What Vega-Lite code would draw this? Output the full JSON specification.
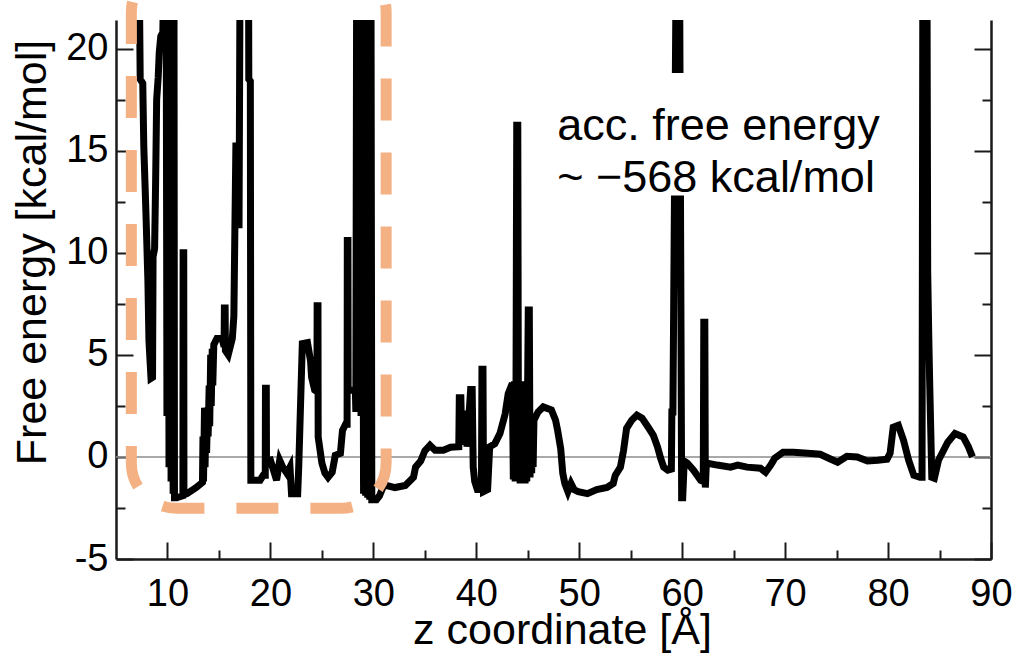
{
  "$schema": "https://vega.github.io/schema/vega-lite/v6.json",
  "width": 875,
  "height": 539,
  "autosize": "none",
  "padding": {"left": 116, "top": 20, "right": 23, "bottom": 99},
  "background": "white",
  "config": {
    "view": {"stroke": null},
    "font": "Liberation Sans",
    "axis": {"domainColor": "#1a1a1a", "domainWidth": 2.5, "tickColor": "#1a1a1a", "tickWidth": 2, "grid": false, "labelFont": "Liberation Sans", "titleFont": "Liberation Sans", "labelColor": "black", "titleColor": "black", "titleFontWeight": "normal", "labelOverlap": false, "labelFlush": false}
  },
  "datasets": {
    "fe": [
      {"z":7.15,"g":30},{"z":7.35,"g":18.5},{"z":7.6,"g":18.3},{"z":7.7,"g":15.2},{"z":7.9,"g":12.1},{"z":8.1,"g":8.6},{"z":8.2,"g":5.7},{"z":8.4,"g":3.85},{"z":8.55,"g":3.9},{"z":8.6,"g":9.8},{"z":8.75,"g":10.2},{"z":8.85,"g":13.5},{"z":8.95,"g":17.5},{"z":9.1,"g":18.6},{"z":9.2,"g":19.8},{"z":9.35,"g":20.6},{"z":9.55,"g":20.8},
      {"z":9.85,"g":30},{"z":9.95,"g":2.0},{"z":10.05,"g":30},{"z":10.15,"g":-0.5},{"z":10.25,"g":30},{"z":10.35,"g":-1.2},{"z":10.45,"g":30},{"z":10.55,"g":-1.8},{"z":10.62,"g":30},{"z":10.68,"g":-2.0},{"z":10.9,"g":-2.0},{"z":11.2,"g":-1.95},{"z":11.5,"g":-1.9},{"z":11.52,"g":10.0},{"z":11.58,"g":10.0},{"z":11.6,"g":-1.85},{"z":11.9,"g":-1.8},{"z":12.8,"g":-1.5},{"z":13.4,"g":-1.25},
      {"z":13.45,"g":1.0},{"z":13.5,"g":-1.2},{"z":13.6,"g":2.4},{"z":13.65,"g":-0.5},{"z":13.75,"g":2.4},{"z":13.8,"g":0.2},{"z":13.9,"g":2.4},{"z":13.95,"g":1.0},{"z":14.05,"g":3.5},{"z":14.1,"g":1.5},{"z":14.2,"g":5.0},{"z":14.25,"g":2.5},{"z":14.35,"g":5.3},{"z":14.4,"g":3.5},{"z":14.5,"g":5.5},{"z":14.6,"g":5.6},{"z":14.8,"g":5.8},{"z":15.3,"g":5.8},{"z":15.5,"g":5.4},{"z":15.53,"g":7.3},{"z":15.6,"g":7.3},{"z":15.63,"g":5.2},{"z":15.9,"g":5.0},{"z":16.3,"g":5.8},{"z":16.45,"g":6.9},{"z":16.55,"g":11.2},{"z":16.65,"g":15.4},{"z":16.75,"g":11.2},{"z":16.85,"g":15.4},{"z":16.95,"g":11.2},{"z":17.1,"g":30},{"z":17.85,"g":30},{"z":17.9,"g":18.5},{"z":18.05,"g":18.4},{"z":18.1,"g":-1.14},
      {"z":19.0,"g":-1.14},{"z":19.3,"g":-0.9},{"z":19.5,"g":-0.9},{"z":19.52,"g":3.36},{"z":19.6,"g":3.36},{"z":19.62,"g":-0.2},{"z":20.0,"g":-0.16},{"z":20.3,"g":-0.65},{"z":20.6,"g":-1.14},{"z":20.9,"g":-0.16},{"z":21.2,"g":-0.5},{"z":21.6,"g":-0.8},{"z":21.9,"g":-0.5},{"z":22.05,"g":-1.8},{"z":22.65,"g":-1.8},{"z":22.75,"g":-0.5},{"z":22.9,"g":2.1},{"z":23.1,"g":5.55},{"z":23.6,"g":5.6},{"z":23.9,"g":4.7},{"z":24.0,"g":3.9},{"z":24.3,"g":3.27},{"z":24.52,"g":3.2},{"z":24.54,"g":7.4},{"z":24.62,"g":7.4},{"z":24.64,"g":0.97},{"z":25.0,"g":-0.3},{"z":25.3,"g":-0.8},{"z":25.6,"g":-1.0},{"z":26.0,"g":-0.75},{"z":26.3,"g":0.08},{"z":26.8,"g":0.18},{"z":27.0,"g":1.3},{"z":27.3,"g":1.6},{"z":27.45,"g":1.6},{"z":27.47,"g":10.6},{"z":27.53,"g":10.6},{"z":27.55,"g":3.27},
      {"z":28.25,"g":3.3},{"z":28.3,"g":2.2},{"z":28.4,"g":30},{"z":28.55,"g":2.2},{"z":28.65,"g":30},{"z":28.8,"g":2.0},{"z":28.9,"g":30},{"z":29.05,"g":-1.8},{"z":29.15,"g":30},{"z":29.25,"g":-1.9},{"z":29.35,"g":30},{"z":29.45,"g":-2.0},{"z":29.55,"g":30},{"z":29.65,"g":-2.1},{"z":29.75,"g":30},{"z":29.85,"g":-2.1},{"z":30.3,"g":-2.1},{"z":30.6,"g":-1.9},
      {"z":31.0,"g":-1.4},{"z":31.3,"g":-1.4},{"z":32.1,"g":-1.5},{"z":33.1,"g":-1.4},{"z":33.9,"g":-1.0},{"z":34.1,"g":-0.5},{"z":34.6,"g":-0.2},{"z":35.0,"g":0.3},{"z":35.5,"g":0.57},{"z":36.0,"g":0.33},{"z":36.8,"g":0.33},{"z":37.5,"g":0.47},{"z":38.3,"g":0.5},{"z":38.35,"g":2.9},{"z":38.5,"g":2.9},{"z":38.6,"g":0.6},{"z":38.85,"g":2.1},{"z":39.0,"g":2.1},{"z":39.1,"g":0.5},{"z":39.45,"g":3.3},{"z":39.6,"g":3.3},{"z":39.7,"g":-0.5},{"z":39.85,"g":-1.2},{"z":40.1,"g":-1.6},{"z":40.5,"g":-1.6},{"z":40.55,"g":4.3},{"z":40.65,"g":4.3},{"z":40.7,"g":-1.7},{"z":41.1,"g":-1.6},{"z":41.3,"g":0.5},{"z":41.8,"g":0.65},{"z":42.3,"g":1.15},{"z":42.8,"g":2.1},{"z":43.1,"g":3.1},{"z":43.5,"g":3.6},
      {"z":43.6,"g":-1.1},{"z":43.7,"g":3.7},{"z":43.78,"g":-1.2},{"z":43.86,"g":3.7},{"z":43.93,"g":16.25},{"z":44.03,"g":16.25},{"z":44.1,"g":-1.2},{"z":44.18,"g":3.7},{"z":44.26,"g":-1.3},{"z":44.34,"g":3.7},{"z":44.42,"g":-1.3},{"z":44.5,"g":3.7},{"z":44.58,"g":-1.3},{"z":44.66,"g":3.6},{"z":44.74,"g":-1.3},{"z":44.82,"g":3.5},{"z":44.9,"g":-1.2},{"z":44.98,"g":3.0},{"z":45.05,"g":7.2},{"z":45.15,"g":7.2},{"z":45.22,"g":-1.0},{"z":45.3,"g":1.8},{"z":45.38,"g":-0.8},{"z":45.46,"g":1.8},{"z":45.52,"g":-0.5},{"z":45.6,"g":1.8},
      {"z":46.0,"g":2.2},{"z":46.5,"g":2.45},{"z":47.3,"g":2.3},{"z":47.7,"g":1.8},{"z":47.9,"g":1.3},{"z":48.2,"g":0.4},{"z":48.4,"g":-0.8},{"z":48.6,"g":-1.3},{"z":48.9,"g":-1.7},{"z":49.2,"g":-1.3},{"z":49.5,"g":-1.6},{"z":49.9,"g":-1.7},{"z":50.8,"g":-1.8},{"z":51.7,"g":-1.6},{"z":52.7,"g":-1.5},{"z":53.3,"g":-1.3},{"z":53.5,"g":-0.9},{"z":54.0,"g":-0.5},{"z":54.3,"g":0.3},{"z":54.6,"g":1.4},{"z":55.1,"g":1.8},{"z":55.6,"g":2.05},{"z":56.1,"g":1.9},{"z":56.7,"g":1.45},{"z":57.2,"g":1.06},{"z":57.6,"g":0.5},{"z":57.9,"g":-0.05},{"z":58.2,"g":-0.5},{"z":58.6,"g":-0.65},{"z":58.95,"g":-0.6},{"z":59.0,"g":2.2},{"z":59.1,"g":2.2},{"z":59.5,"g":30},{"z":59.7,"g":30},{"z":59.95,"g":-2.0},{"z":60.05,"g":-2.0},{"z":60.2,"g":-0.2},{"z":60.5,"g":-0.3},{"z":61.1,"g":-0.65},{"z":61.8,"g":-1.15},{"z":62.05,"g":-1.2},{"z":62.1,"g":6.6},{"z":62.2,"g":6.6},{"z":62.25,"g":-1.5},{"z":62.35,"g":-0.3},
      {"z":63.4,"g":-0.4},{"z":64.7,"g":-0.5},{"z":65.4,"g":-0.4},{"z":66.3,"g":-0.5},{"z":67.6,"g":-0.55},{"z":68.1,"g":-0.75},{"z":68.6,"g":-0.4},{"z":69.0,"g":-0.06},{"z":69.8,"g":0.23},{"z":70.8,"g":0.23},{"z":72.2,"g":0.18},{"z":73.4,"g":0.13},{"z":74.4,"g":-0.1},{"z":75.1,"g":-0.26},{"z":76.0,"g":0.03},{"z":77.0,"g":0.0},{"z":78.0,"g":-0.2},{"z":79.0,"g":-0.16},{"z":79.9,"g":-0.11},{"z":80.2,"g":0.18},{"z":80.5,"g":1.45},{"z":81.0,"g":1.55},{"z":81.5,"g":0.82},{"z":82.0,"g":-0.16},{"z":82.5,"g":-0.9},{"z":83.1,"g":-1.0},{"z":83.3,"g":-1.0},{"z":83.4,"g":30},{"z":83.75,"g":30},{"z":83.85,"g":9.1},{"z":83.95,"g":6.0},{"z":84.05,"g":3.5},{"z":84.25,"g":-1.0},{"z":84.5,"g":-1.05},{"z":84.9,"g":-0.16},{"z":85.8,"g":0.72},{"z":86.5,"g":1.15},{"z":87.3,"g":0.98},{"z":87.8,"g":0.5},{"z":88.2,"g":0.0}
    ],
    "dummy": [{"z": 5, "g": 0}]
  },
  "resolve": {"axis": {"x": "independent", "y": "independent"}},
  "layer": [
    {
      "data": {"values": [{"y0": 0}]},
      "mark": {"type": "rule", "color": "#8c8c8c", "strokeWidth": 1.5},
      "encoding": {"y": {"field": "y0", "type": "quantitative", "scale": {"domain": [-5, 21.4], "nice": false, "zero": false}, "axis": null}}
    },
    {
      "data": {"name": "fe"},
      "mark": {"type": "line", "color": "black", "strokeWidth": 7, "clip": true, "strokeJoin": "miter", "strokeCap": "butt"},
      "encoding": {
        "x": {"field": "z", "type": "quantitative", "scale": {"domain": [5, 90], "nice": false, "zero": false},
          "axis": {"orient": "bottom", "values": [10, 20, 30, 40, 50, 60, 70, 80, 90], "ticks": false, "domain": true, "labelFontSize": 38, "labelPadding": 16, "title": "z coordinate [Å]", "titleFontSize": 43, "titleX": 446, "titleY": 84, "titleBaseline": "alphabetic", "titleAlign": "center"}},
        "y": {"field": "g", "type": "quantitative", "scale": {"domain": [-5, 21.4], "nice": false, "zero": false},
          "axis": {"orient": "left", "values": [-5, 0, 5, 10, 15, 20], "ticks": false, "domain": true, "labelFontSize": 38, "labelPadding": 8, "labelExpr": "replace(datum.label, '−', '-')", "title": "Free energy [kcal/mol]", "titleFontSize": 43, "titleX": -71, "titleY": 232, "titleAngle": 270, "titleBaseline": "alphabetic", "titleAlign": "center"}},
        "order": {"value": null}
      }
    },
    {
      "data": {"values": [{"x1": 6.49, "x2": 31.24, "y1": -2.515, "y2": 24}]},
      "mark": {"type": "rect", "fill": "transparent", "stroke": "#F4B183", "strokeWidth": 11, "strokeDash": [42, 32], "strokeDashOffset": 68, "cornerRadius": 45, "clip": false},
      "encoding": {
        "x": {"field": "x1", "type": "quantitative", "scale": {"domain": [5, 90], "nice": false, "zero": false}, "axis": null},
        "x2": {"field": "x2"},
        "y": {"field": "y1", "type": "quantitative", "scale": {"domain": [-5, 21.4], "nice": false, "zero": false}, "axis": null},
        "y2": {"field": "y2"}
      }
    },
    {
      "data": {"values": [{"x1": 47.2, "x2": 80.7, "y1": 12.8, "y2": 18.8}]},
      "mark": {"type": "rect", "fill": "white", "stroke": null},
      "encoding": {
        "x": {"field": "x1", "type": "quantitative", "scale": {"domain": [5, 90], "nice": false, "zero": false}, "axis": null},
        "x2": {"field": "x2"},
        "y": {"field": "y1", "type": "quantitative", "scale": {"domain": [-5, 21.4], "nice": false, "zero": false}, "axis": null},
        "y2": {"field": "y2"}
      }
    },
    {
      "data": {"values": [{"x": 47.86, "y": 15.52, "t": "acc. free energy"}, {"x": 47.86, "y": 12.98, "t": "~ −568 kcal/mol"}]},
      "mark": {"type": "text", "align": "left", "baseline": "alphabetic", "fontSize": 45, "font": "Liberation Sans", "color": "black"},
      "encoding": {
        "x": {"field": "x", "type": "quantitative", "scale": {"domain": [5, 90], "nice": false, "zero": false}, "axis": null},
        "y": {"field": "y", "type": "quantitative", "scale": {"domain": [-5, 21.4], "nice": false, "zero": false}, "axis": null},
        "text": {"field": "t"}
      }
    },
    {
      "data": {"name": "dummy"},
      "mark": {"type": "point", "opacity": 0},
      "encoding": {
        "x": {"field": "z", "type": "quantitative", "scale": {"domain": [5, 90], "nice": false, "zero": false},
          "axis": {"orient": "bottom", "values": [10, 20, 30, 40, 50, 60, 70, 80, 90], "tickSize": -17, "labels": false, "domain": false, "title": null}},
        "y": {"field": "g", "type": "quantitative", "scale": {"domain": [-5, 21.4], "nice": false, "zero": false},
          "axis": {"orient": "left", "values": [-5, 0, 5, 10, 15, 20], "tickSize": -17, "labels": false, "domain": false, "title": null}}
      }
    },
    {
      "data": {"name": "dummy"},
      "mark": {"type": "point", "opacity": 0},
      "encoding": {
        "x": {"field": "z", "type": "quantitative", "scale": {"domain": [5, 90], "nice": false, "zero": false},
          "axis": {"orient": "bottom", "values": [15, 25, 35, 45, 55, 65, 75, 85], "tickSize": -9, "labels": false, "domain": false, "title": null}},
        "y": {"field": "g", "type": "quantitative", "scale": {"domain": [-5, 21.4], "nice": false, "zero": false},
          "axis": {"orient": "left", "values": [-2.5, 2.5, 7.5, 12.5, 17.5], "tickSize": -9, "labels": false, "domain": false, "title": null}}
      }
    },
    {
      "data": {"name": "dummy"},
      "mark": {"type": "point", "opacity": 0},
      "encoding": {
        "x": {"field": "z", "type": "quantitative", "scale": {"domain": [5, 90], "nice": false, "zero": false}, "axis": null},
        "y": {"field": "g", "type": "quantitative", "scale": {"domain": [-5, 21.4], "nice": false, "zero": false},
          "axis": {"orient": "right", "values": [-5, 0, 5, 10, 15, 20], "tickSize": -17, "labels": false, "domain": true, "title": null}}
      }
    },
    {
      "data": {"name": "dummy"},
      "mark": {"type": "point", "opacity": 0},
      "encoding": {
        "x": {"field": "z", "type": "quantitative", "scale": {"domain": [5, 90], "nice": false, "zero": false}, "axis": null},
        "y": {"field": "g", "type": "quantitative", "scale": {"domain": [-5, 21.4], "nice": false, "zero": false},
          "axis": {"orient": "right", "values": [-2.5, 2.5, 7.5, 12.5, 17.5], "tickSize": -9, "labels": false, "domain": false, "title": null}}
      }
    }
  ]
}
